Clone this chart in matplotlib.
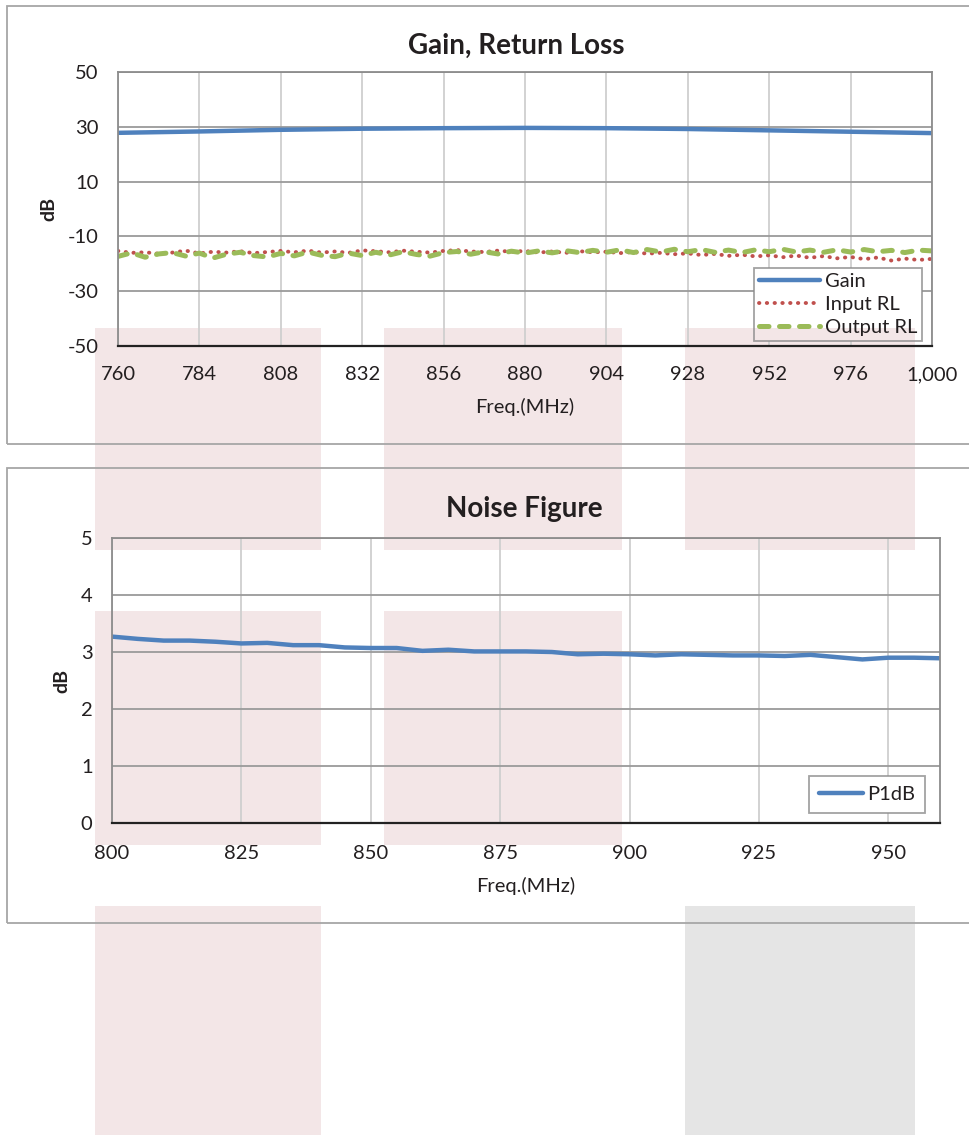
"""Gain / return loss and noise figure panels, redrawn from a datasheet screenshot."""

import numpy as np
import matplotlib
matplotlib.use("Agg")
import matplotlib.pyplot as plt
from matplotlib.patches import Rectangle
from matplotlib.ticker import FuncFormatter
from matplotlib.transforms import IdentityTransform

plt.rcParams["font.family"] = ["Lato", "DejaVu Sans"]
plt.rcParams["axes.unicode_minus"] = False

W, H = 970, 1135

# ---- data ----
gain_freq = [760, 784, 808, 832, 856, 880, 904, 928, 952, 976, 1000]
gain_db = [27.8, 28.3, 28.9, 29.3, 29.5, 29.6, 29.5, 29.2, 28.7, 28.2, 27.7]

rl_freq = list(range(760, 1001, 4))
input_rl = [-15.3, -16.0, -15.8, -16.3, -15.9, -15.2, -16.2, -15.6, -15.9, -15.4,
            -16.1, -15.7, -15.3, -15.8, -15.2, -15.9, -15.5, -16.0, -15.1, -15.4,
            -15.8, -15.2, -15.6, -15.9, -15.3, -15.0, -15.5, -15.7, -15.2, -15.6,
            -15.3, -15.9, -15.5, -16.0, -15.4, -15.8, -15.6, -16.1, -15.7, -16.3,
            -16.0, -16.5, -16.2, -16.8, -16.4, -17.1, -16.7, -17.3, -16.9, -17.6,
            -17.0, -17.8, -17.2, -18.0, -17.5, -18.3, -17.7, -18.8, -18.1, -18.6,
            -18.2]
output_rl = [-17.3, -16.0, -17.6, -16.4, -15.9, -17.2, -16.1, -17.9, -16.5, -15.8,
             -17.0, -17.5, -16.2, -17.1, -15.7, -16.9, -17.4, -16.1, -17.0, -15.8,
             -16.8, -15.6, -16.6, -17.2, -15.9, -15.5, -16.5, -15.6, -16.4, -15.4,
             -16.1, -15.3, -16.0, -15.2, -15.9, -15.1, -15.8, -14.9, -15.9, -14.8,
             -15.7, -14.7, -15.6, -14.8, -15.8, -15.0, -15.9, -14.9, -15.6, -14.7,
             -15.7, -15.0, -15.8, -14.9, -15.7, -14.8, -15.6, -15.1, -15.9, -15.0,
             -15.3]

nf_freq = list(range(800, 961, 5))
nf_db = [3.27, 3.23, 3.20, 3.20, 3.18, 3.15, 3.16, 3.12, 3.12, 3.08, 3.07,
         3.07, 3.02, 3.04, 3.01, 3.01, 3.01, 3.00, 2.96, 2.97, 2.96, 2.94,
         2.96, 2.95, 2.94, 2.94, 2.93, 2.95, 2.91, 2.87, 2.90, 2.90, 2.89]

top_xticks = list(range(760, 1001, 24))
top_yticks = list(range(-50, 51, 20))
nf_xticks = list(range(800, 951, 25))
nf_yticks = list(range(0, 6))

BLUE = "#4F81BD"
RED = "#C0504D"
GREEN = "#9BBB59"
TXT = "#231F20"
PINK = "#F3E6E7"
GREY = "#E5E5E5"

# background blocks on the page (pixel columns / rows)
cols = [(95, 321), (384, 622), (685, 915)]
rows = [(328, 550), (611, 845), (906, 1135)]
blocks = [(0, 0, PINK), (0, 1, PINK), (0, 2, PINK),
          (1, 0, PINK), (1, 1, PINK),
          (2, 0, PINK), (2, 2, GREY)]


def px_axes(fig, left, top, right, bottom):
    ax = fig.add_axes([left / W, 1 - bottom / H, (right - left) / W, (bottom - top) / H])
    ax.patch.set_alpha(0)
    return ax


def px_rect(fig, x0, y0, x1, y1, **kw):
    r = Rectangle((x0 / W, 1 - y1 / H), (x1 - x0) / W, (y1 - y0) / H,
                  transform=fig.transFigure, **kw)
    fig.add_artist(r)
    return r


def style_axes(ax, xpad):
    ax.grid(axis="y", color="#9A9A9A", lw=1.3)
    ax.grid(axis="x", color="#CFCFCF", lw=1.3)
    ax.set_axisbelow(True)
    for s in ("left", "top", "right"):
        ax.spines[s].set_color("#8C8C8C")
        ax.spines[s].set_linewidth(1.3)
    ax.spines["bottom"].set_color("#222222")
    ax.spines["bottom"].set_linewidth(1.6)
    ax.tick_params(length=0, labelsize=14.5, colors=TXT)
    ax.tick_params(axis="y", pad=14)
    ax.tick_params(axis="x", pad=xpad)


def legend_backing(ax, leg):
    """white box behind a see-through legend, pink where a block crosses it"""
    bb = leg.get_window_extent()
    tr = IdentityTransform()
    ax.add_patch(Rectangle((bb.x0, bb.y0), bb.width, bb.height, transform=tr,
                           fc="white", ec="none", zorder=1.5))
    for r, c, col in blocks:
        x0, x1 = max(bb.x0, cols[c][0]), min(bb.x1, cols[c][1])
        y0, y1 = max(bb.y0, H - rows[r][1]), min(bb.y1, H - rows[r][0])
        if x1 > x0 and y1 > y0:
            ax.add_patch(Rectangle((x0, y0), x1 - x0, y1 - y0, transform=tr,
                                   fc=col, ec="none", zorder=1.6))


fig = plt.figure(figsize=(W / 100, H / 100), dpi=100)

for r, c, col in blocks:
    px_rect(fig, cols[c][0], rows[r][0], cols[c][1], rows[r][1], fc=col, ec="none", zorder=-3)

# panel frames
px_rect(fig, 7, 6, 985, 444, fill=False, ec="#A6A6A6", lw=1.3, zorder=-1)
px_rect(fig, 7, 468, 985, 923, fill=False, ec="#A6A6A6", lw=1.3, zorder=-1)

# ---- top: gain, return loss ----
ax1 = px_axes(fig, 118, 72, 932, 346)
ax1.plot(gain_freq, gain_db, color=BLUE, lw=3.2, label="Gain", solid_capstyle="round")
ax1.plot(rl_freq, input_rl, color=RED, lw=2.8, linestyle=(0, (0.1, 1.9)),
         dash_capstyle="round", label="Input RL")
ax1.plot(rl_freq, output_rl, color=GREEN, lw=3.6, linestyle=(0, (1.9, 2.1)),
         dash_capstyle="round", label="Output RL")
ax1.set_xlim(760, 1000)
ax1.set_ylim(-50, 50)
ax1.set_xticks(top_xticks)
ax1.set_yticks(top_yticks)
ax1.xaxis.set_major_formatter(FuncFormatter(lambda v, p: f"{v:,.0f}"))
style_axes(ax1, 14.5)
ax1.set_ylabel("dB", fontsize=14, fontweight="bold", color=TXT)
ax1.yaxis.set_label_coords(-0.075, 0.5)
ax1.set_xlabel("Freq.(MHz)", fontsize=14.5, color=TXT)
ax1.xaxis.set_label_coords(0.5, -0.19)
leg1 = ax1.legend(loc="lower right", bbox_to_anchor=(0.988, 0.018), fontsize=14.5,
                  frameon=True, fancybox=False, facecolor="none", edgecolor="#8C8C8C",
                  handlelength=3.0, handletextpad=0.25, borderpad=0.25, labelspacing=0.3,
                  borderaxespad=0)
leg1.get_frame().set_linewidth(1.3)
for t in leg1.get_texts():
    t.set_color(TXT)
fig.text(516 / W, 1 - 46 / H, "Gain, Return Loss", ha="center", va="center",
         fontsize=20, fontweight="bold", color=TXT)

# ---- bottom: noise figure ----
ax2 = px_axes(fig, 112, 538, 940, 823)
ax2.plot(nf_freq, nf_db, color=BLUE, lw=3.2, label="P1dB", solid_capstyle="round")
ax2.set_xlim(800, 960)
ax2.set_ylim(0, 5)
ax2.set_xticks(nf_xticks)
ax2.set_yticks(nf_yticks)
style_axes(ax2, 16)
ax2.set_ylabel("dB", fontsize=14, fontweight="bold", color=TXT)
ax2.yaxis.set_label_coords(-0.0507, 0.5)
ax2.set_xlabel("Freq.(MHz)", fontsize=14.5, color=TXT)
ax2.xaxis.set_label_coords(0.5, -0.189)
leg2 = ax2.legend(loc="lower right", bbox_to_anchor=(0.982, 0.035), fontsize=14.5,
                  frameon=True, fancybox=False, facecolor="none", edgecolor="#8C8C8C",
                  handlelength=2.2, handletextpad=0.2, borderpad=0.5, borderaxespad=0)
leg2.get_frame().set_linewidth(1.3)
for t in leg2.get_texts():
    t.set_color(TXT)
fig.text(524 / W, 1 - 509 / H, "Noise Figure", ha="center", va="center",
         fontsize=20, fontweight="bold", color=TXT)

fig.canvas.draw()
legend_backing(ax1, leg1)
legend_backing(ax2, leg2)

fig.savefig("out.png", dpi=100)
